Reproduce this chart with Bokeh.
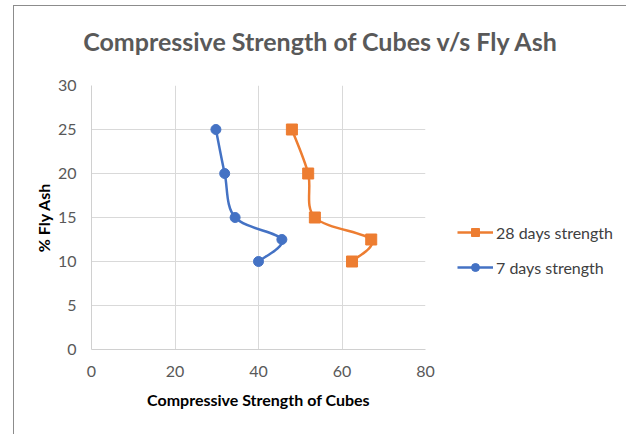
import numpy as np
from bokeh.plotting import figure
from bokeh.layouts import column
from bokeh.models import Legend, LegendItem, Div, Range1d, FixedTicker
from bokeh.embed import file_html
from bokeh.resources import INLINE

# ---- data ----
fly_ash = [10, 12.5, 15, 20, 25]
strength_28 = [62.4, 67.0, 53.5, 51.9, 48.0]
strength_7 = [40.0, 45.6, 34.4, 31.9, 29.8]
x_ticks = [0, 20, 40, 60, 80]
y_ticks = [0, 5, 10, 15, 20, 25, 30]
series_names = ["28 days strength", "7 days strength"]
title_text = "Compressive Strength of Cubes v/s Fly Ash"
x_label = "Compressive Strength of Cubes"
y_label = "% Fly Ash"

ORANGE = "#ED7D31"
BLUE = "#4472C4"
FONT = "Lato"

title_div = Div(text=title_text, width=612, height=67, margin=0,
                styles={"font-family": FONT, "font-size": "25px", "font-weight": "bold",
                        "color": "#595959", "text-align": "center", "padding-top": "20px",
                        "line-height": "1.2", "box-sizing": "border-box", "width": "612px"})

p = figure(frame_width=334, frame_height=264, output_backend="svg", toolbar_location=None,
           x_range=Range1d(0, 80), y_range=Range1d(0, 30),
           min_border_left=77, min_border_right=201, min_border_top=12, min_border_bottom=85)
p.margin = 0
p.outline_line_color = None
p.background_fill_color = "white"

for ax, ticks in ((p.xaxis, x_ticks), (p.yaxis, y_ticks)):
    ax.ticker = FixedTicker(ticks=ticks)
    ax.major_tick_line_color = None
    ax.minor_tick_line_color = None
    ax.axis_line_color = "#d0d0d0"
    ax.major_label_text_font = FONT
    ax.major_label_text_font_size = "16px"
    ax.major_label_text_color = "#595959"
    ax.axis_label_text_font = FONT
    ax.axis_label_text_font_size = "16px"
    ax.axis_label_text_font_style = "bold"
    ax.axis_label_text_color = "black"

p.xaxis.axis_label = x_label
p.yaxis.axis_label = y_label
p.xaxis.major_label_standoff = 10
p.yaxis.major_label_standoff = 9
p.xaxis.axis_label_standoff = 10
p.yaxis.axis_label_standoff = 2

p.xgrid.ticker = FixedTicker(ticks=x_ticks)
p.ygrid.ticker = FixedTicker(ticks=y_ticks)
p.grid.grid_line_color = "#d9d9d9"
p.grid.grid_line_width = 1


def smooth_segments(xs, ys):
    pts = np.column_stack([xs, ys]).astype(float)
    n = len(pts)
    seg = {k: [] for k in ("x0", "y0", "x1", "y1", "cx0", "cy0", "cx1", "cy1")}
    for i in range(n - 1):
        a = pts[max(i - 1, 0)]
        b = pts[i]
        c = pts[i + 1]
        d = pts[min(i + 2, n - 1)]
        c0 = b + (c - a) / 6.0
        c1 = c - (d - b) / 6.0
        seg["x0"].append(b[0]); seg["y0"].append(b[1])
        seg["x1"].append(c[0]); seg["y1"].append(c[1])
        seg["cx0"].append(c0[0]); seg["cy0"].append(c0[1])
        seg["cx1"].append(c1[0]); seg["cy1"].append(c1[1])
    return seg


items = []
for name, xs, color, marker, size in ((series_names[0], strength_28, ORANGE, "square", 11),
                                      (series_names[1], strength_7, BLUE, "circle", 10)):
    seg = smooth_segments(xs, fly_ash)
    p.bezier(line_color=color, line_width=2.5, **seg)
    # single-point line: draws nothing on the plot, only supplies the legend's line glyph
    key_line = p.line(x=xs[:1], y=fly_ash[:1], line_color=color, line_width=2.5)
    sc = p.scatter(x=xs, y=fly_ash, marker=marker, size=size, fill_color=color, line_color=color)
    items.append(LegendItem(label=name, renderers=[key_line, sc]))

legend = Legend(items=items, location=(32, 72), orientation="vertical",
                border_line_color=None, background_fill_alpha=0,
                label_text_font=FONT, label_text_font_size="16px", label_text_color="#404040",
                glyph_width=36, glyph_height=20, label_height=20, spacing=15,
                label_standoff=3, padding=0, margin=0)
p.add_layout(legend, "right")

layout = column(title_div, p, spacing=0)
layout.margin = (5, 0, 0, 13)
layout.styles = {"border-top": "1px solid #8c8c8c", "border-left": "1px solid #8c8c8c"}

open("out.html", "w").write(file_html(layout, INLINE))
